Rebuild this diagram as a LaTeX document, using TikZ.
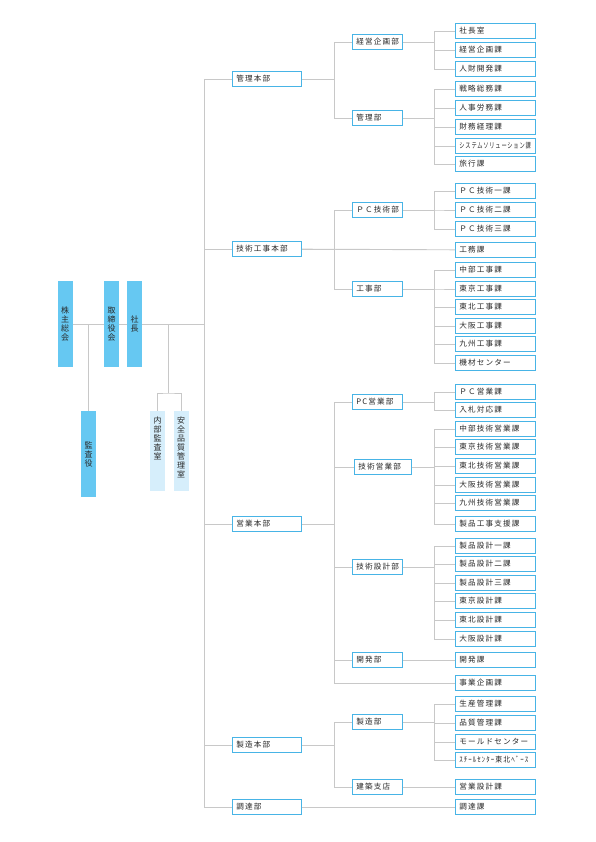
\documentclass[tikz,border=0pt]{standalone}
\usepackage{fontspec}
\usepackage{graphicx}
\usetikzlibrary{positioning,calc}
\newfontfamily\jpfont[LetterSpace=15]{Noto Sans CJK JP}
\newfontfamily\jpplain{Noto Sans CJK JP}
\definecolor{orgblue}{RGB}{72,180,230}
\definecolor{orgfill}{RGB}{102,200,242}
\definecolor{orglight}{RGB}{214,238,251}
\definecolor{linkgray}{RGB}{200,200,200}
\definecolor{textgray}{RGB}{40,40,40}
\newcommand{\sqz}[1]{\scalebox{0.69}[1]{#1}}
\newcommand{\tight}[1]{\scalebox{0.91}[1]{#1}}
\tikzset{
    unit/.style={draw=orgblue, fill=white, line width=0.9pt, minimum height=15pt, inner xsep=4pt, inner ysep=0pt, align=left, anchor=west, text=textgray, font=\jpfont\fontsize{7.6}{9}\selectfont},
    honbu/.style={unit, text width=61pt},
    bu/.style={unit, text width=42pt},
    buwide/.style={unit, text width=49pt},
    ka/.style={unit, text width=72pt},
    vbox/.style={fill=orgfill, minimum width=15pt, minimum height=86pt, inner sep=0pt, align=center, text=textgray, font=\jpplain\fontsize{8}{9}\selectfont},
    vlight/.style={vbox, fill=orglight, minimum height=80pt},
    vtext/.style={inner sep=0pt, align=center, anchor=north, text=textgray, font=\jpplain\fontsize{8}{9}\selectfont},
    link/.style={draw=linkgray, line width=0.9pt},
}
\begin{document}
\begin{tikzpicture}[x=1pt, y=-1pt]
    \useasboundingbox (0,0) rectangle (595,842);
    \coordinate (busA) at (204,0);
    \coordinate (busB) at (334,0);
    \coordinate (busC) at (434,0);

    % top management
    \node[vbox] (kabunushi) at (65,324) {株\\主\\総\\会};
    \node[vbox] (torishimari) at (111.5,324) {取\\締\\役\\会};
    \node[vbox] (shacho) at (134.5,324) {社\\長};
    \node[vbox] (kansayaku) at (88.5,454) {監\\査\\役};
    \node[vlight] (naibu) at (157.5,451) {};
    \node[vlight] (anzen) at (181,451) {};
    \node[vtext] (naibuT) at ([yshift=-6pt]naibu.north) {内\\部\\監\\査\\室};
    \node[vtext] (anzenT) at ([yshift=-6pt]anzen.north) {安\\全\\品\\質\\管\\理\\室};

    \draw[link] (kabunushi) -- (torishimari);
    \draw[link] (torishimari) -- (shacho);
    \draw[link] (kansayaku.north) -- (kansayaku.north |- kabunushi.east);
    \coordinate (staff) at (168,393);
    \draw[link] (staff |- shacho.east) -- (staff);
    \draw[link] (naibu.north) |- (staff) -| (anzen.north);

    % head offices
    \foreach \y/\n/\t in {79/kanri/管理本部, 249/gikou/技術工事本部, 524/eigyo/営業本部, 745/seizo/製造本部, 807/choutatsu/調達部} {
        \node[honbu] (\n) at (232,\y) {\t};
        \draw[link] (busA |- \n.west) -- (\n.west);
    }
    \draw[link] (shacho.east) -- (busA |- shacho.east);
    \draw[link] (busA |- kanri.west) -- (busA |- choutatsu.west);

    % departments
    \foreach \y/\n/\t in {42/keikakubu/経営企画部, 118/kanribu/管理部, 210/pcgibu/ＰＣ技術部, 289/koujibu/工事部, 402/pceibu/PC営業部, 567/gisebu/技術設計部, 660/kaihatsubu/開発部, 722/seizoubu/製造部, 787/kenchiku/建築支店} {
        \node[bu] (\n) at (352,\y) {\t};
    }
    \node[buwide] (gieibu) at (354,467) {技術営業部};

    % sections
    \foreach \y/\n/\t in {31/shachoshitsu/社長室, 50/keikakuka/経営企画課, 69/jinzai/人財開発課,
        89/senryaku/戦略総務課, 108/jinji/人事労務課, 127/zaimu/財務経理課, 146/system/\sqz{システムソリューション課}, 164/ryokou/旅行課,
        191/pc1/ＰＣ技術一課, 210/pc2/ＰＣ技術二課, 229/pc3/ＰＣ技術三課, 250/koumu/工務課,
        270/kchubu/中部工事課, 289/ktokyo/東京工事課, 307/ktohoku/東北工事課, 326/kosaka/大阪工事課, 344/kkyushu/九州工事課, 363/kizai/機材センター,
        392/pceika/ＰＣ営業課, 410/nyusatsu/入札対応課,
        429/echubu/中部技術営業課, 447/etokyo/東京技術営業課, 466/etohoku/東北技術営業課, 485/eosaka/大阪技術営業課, 503/ekyushu/九州技術営業課, 524/shienka/製品工事支援課,
        546/sekkei1/製品設計一課, 564/sekkei2/製品設計二課, 583/sekkei3/製品設計三課, 601/stokyo/東京設計課, 620/stohoku/東北設計課, 639/sosaka/大阪設計課,
        660/kaihatsuka/開発課, 683/jigyou/事業企画課,
        704/seisan/生産管理課, 723/hinshitsu/品質管理課, 742/mold/モールドセンター, 760/steel/\tight{ｽﾁｰﾙｾﾝﾀｰ東北ﾍﾞｰｽ},
        787/eisekkei/営業設計課, 807/choutatsuka/調達課} {
        \node[ka] (\n) at (455,\y) {\t};
    }

    % head office to departments
    \foreach \c in {keikakubu, kanribu}
        \draw[link] (kanri.east) -- (busB |- kanri.east) |- (\c.west);
    \foreach \c in {pcgibu, koujibu}
        \draw[link] (gikou.east) -- (busB |- gikou.east) |- (\c.west);
    \foreach \c in {pceibu, gieibu, gisebu, kaihatsubu, jigyou}
        \draw[link] (eigyo.east) -- (busB |- eigyo.east) |- (\c.west);
    \foreach \c in {seizoubu, kenchiku}
        \draw[link] (seizo.east) -- (busB |- seizo.east) |- (\c.west);
    \draw[link] (gikou) -- (koumu);
    \draw[link] (choutatsu) -- (choutatsuka);

    % departments to sections
    \foreach \p/\c in {keikakubu/shachoshitsu, keikakubu/keikakuka, keikakubu/jinzai,
        kanribu/senryaku, kanribu/jinji, kanribu/zaimu, kanribu/system, kanribu/ryokou,
        pcgibu/pc1, pcgibu/pc2, pcgibu/pc3,
        koujibu/kchubu, koujibu/ktokyo, koujibu/ktohoku, koujibu/kosaka, koujibu/kkyushu, koujibu/kizai,
        pceibu/pceika, pceibu/nyusatsu,
        gieibu/echubu, gieibu/etokyo, gieibu/etohoku, gieibu/eosaka, gieibu/ekyushu, gieibu/shienka,
        gisebu/sekkei1, gisebu/sekkei2, gisebu/sekkei3, gisebu/stokyo, gisebu/stohoku, gisebu/sosaka,
        seizoubu/seisan, seizoubu/hinshitsu, seizoubu/mold, seizoubu/steel}
        \draw[link] (\p.east) -- (busC |- \p.east) |- (\c.west);
    \draw[link] (kaihatsubu) -- (kaihatsuka);
    \draw[link] (kenchiku) -- (eisekkei);
\end{tikzpicture}
\end{document}
